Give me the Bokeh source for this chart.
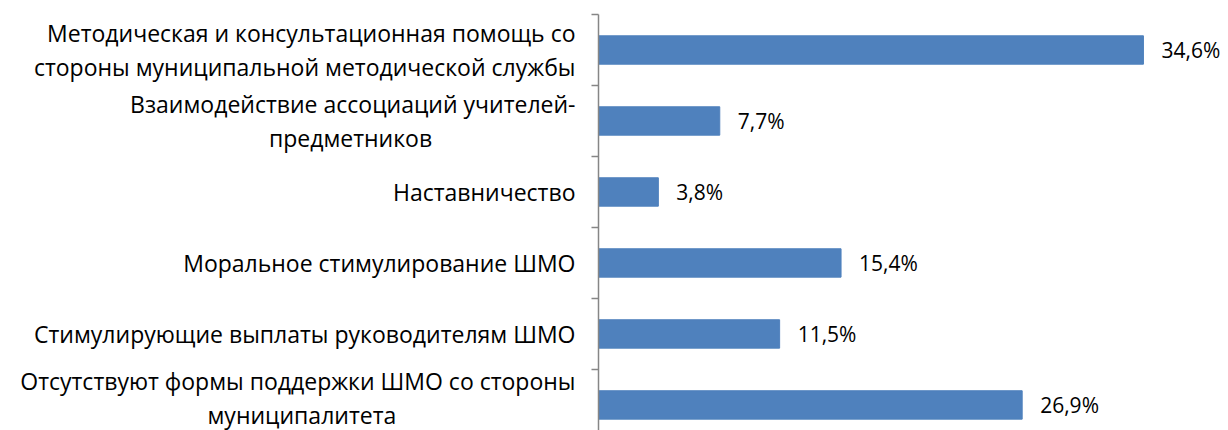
from bokeh.plotting import figure
from bokeh.models import Range1d, FixedTicker, ColumnDataSource
from bokeh.core.properties import value
from bokeh.embed import file_html
from bokeh.resources import INLINE

categories = [
    ["Методическая и консультационная помощь со", "стороны муниципальной методической службы"],
    ["Взаимодействие ассоциаций учителей-", "предметников"],
    ["Наставничество"],
    ["Моральное стимулирование ШМО"],
    ["Стимулирующие выплаты руководителям ШМО"],
    ["Отсутствуют формы поддержки ШМО со стороны", "муниципалитета"],
]
values = [34.6, 7.7, 3.8, 15.4, 11.5, 26.9]

# trailing no-break spaces that visually centre the short second line
pads = [0, 24, 0, 0, 0, 30]

FONT = "Open Sans"
n = len(categories)
pos = list(range(n))
labels = [f"{v:.1f}".replace(".", ",") + "%" for v in values]


def tick_text(lines, pad):
    if len(lines) == 1:
        return lines[0]
    return lines[0] + "\n" + lines[1] + "\u00a0" * pad


src = ColumnDataSource(dict(y=pos, v=values, lab=labels))

p = figure(width=1228, height=430, output_backend="svg", toolbar_location=None,
           x_range=Range1d(0, 40), y_range=Range1d(n - 0.64, -0.5),
           min_border_left=598, min_border_right=0, min_border_top=14, min_border_bottom=0,
           x_axis_location=None)
p.outline_line_color = None
p.grid.visible = False
p.background_fill_color = "white"
p.border_fill_color = "white"

p.hbar(y="y", left=0, right="v", height=0.4, source=src,
       fill_color="#4F81BD", line_color="#4F81BD")
p.text(x="v", y="y", text="lab", source=src, x_offset=18,
       text_align="left", text_baseline="middle",
       text_font=value(FONT), text_font_size="21px", text_color="#000000")

ax = p.yaxis[0]
ax.ticker = FixedTicker(ticks=pos, minor_ticks=[i - 0.5 for i in range(n + 1)])
ax.major_label_overrides = {i: tick_text(c, k) for i, c, k in zip(pos, categories, pads)}
ax.major_tick_line_color = None
ax.major_tick_out = 0
ax.major_tick_in = 0
ax.minor_tick_out = 7
ax.minor_tick_in = 0
ax.minor_tick_line_color = "#868686"
ax.axis_line_color = "#868686"
ax.axis_line_width = 1.5
ax.minor_tick_line_width = 1.5
ax.major_label_standoff = 16
ax.major_label_text_font = FONT
ax.major_label_text_font_size = "23px"
ax.major_label_text_color = "#000000"
ax.major_label_text_line_height = 1.06

open("out.html", "w").write(file_html(p, INLINE))
